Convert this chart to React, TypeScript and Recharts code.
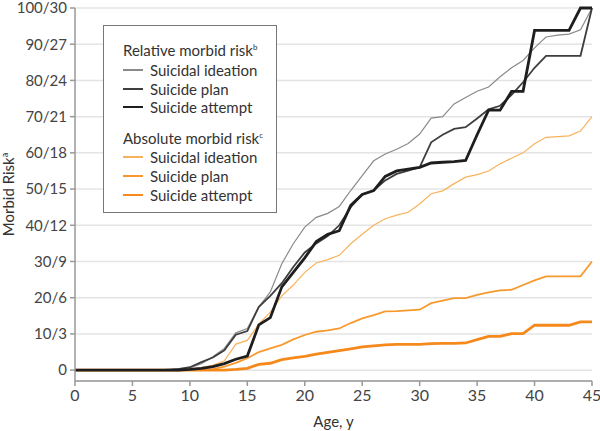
import React from 'react';
import { LineChart, Line, XAxis, YAxis, CartesianGrid } from 'recharts';

// ages 0..45, one point per year
const ages = [
  0, 1, 2, 3, 4, 5, 6, 7, 8, 9, 10, 11, 12, 13, 14, 15, 16, 17, 18, 19, 20, 21, 22,
  23, 24, 25, 26, 27, 28, 29, 30, 31, 32, 33, 34, 35, 36, 37, 38, 39, 40, 41, 42, 43, 44, 45,
];

// relative morbid risk (left scale, 0-100)
const relIdeation = [
  0, 0, 0, 0, 0, 0, 0, 0, 0.2, 0.4, 0.6, 1.8, 3.7, 6, 10.3, 11.5, 17.4, 21.6, 29.4, 34.9,
  39.5, 42.2, 43.3, 45.2, 49.6, 53.7, 57.8, 59.7, 61, 62.6, 65.2, 69.6, 70, 73.5, 75.3, 77,
  78.2, 81, 83.5, 85.5, 89, 92, 92.5, 92.8, 94, 100,
];
const relPlan = [
  0, 0, 0, 0, 0, 0, 0, 0, 0, 0.3, 0.8, 2.2, 3.5, 5.5, 9.8, 10.8, 17.5, 20.5, 24, 28.5, 32.5,
  35, 37, 40, 45, 48.5, 49.6, 52.4, 54.2, 55.1, 56, 62.9, 65, 66.6, 67.1, 69.5, 72, 73, 76,
  79.5, 83.5, 86.8, 86.8, 86.8, 86.8, 100,
];
const relAttempt = [
  0, 0, 0, 0, 0, 0, 0, 0, 0, 0, 0.2, 0.5, 1, 1.8, 3, 3.9, 12.5, 14.5, 23, 27, 31, 35.5, 37.5,
  38.5, 45.5, 48.5, 49.6, 53.5, 55, 55.5, 56, 57.2, 57.4, 57.6, 57.9, 65, 71.8, 71.8, 77, 77,
  93.8, 93.8, 93.8, 93.8, 100, 100,
];

// absolute morbid risk, drawn on the same grid (right number of each tick label)
const absIdeation = [
  0, 0, 0, 0, 0, 0, 0, 0, 0, 0, 0.3, 0.7, 1.3, 2.6, 7.2, 8.2, 12.7, 16, 20.5, 23.5, 27, 29.6,
  30.5, 31.7, 34.9, 37.5, 40, 41.8, 42.8, 43.6, 45.9, 48.7, 49.5, 51.5, 53.3, 54, 55, 57, 58.5,
  60, 62.5, 64.3, 64.5, 64.7, 66, 70,
];
const absPlan = [
  0, 0, 0, 0, 0, 0, 0, 0, 0, 0, 0, 0, 0.3, 1, 2, 3.3, 5, 6, 7, 8.5, 9.7, 10.6, 11, 11.5, 13,
  14.3, 15.2, 16.2, 16.3, 16.5, 16.7, 18.5, 19.2, 19.9, 19.9, 20.8, 21.5, 22, 22.2, 23.5, 24.8,
  25.9, 25.9, 25.9, 25.9, 30,
];
const absAttempt = [
  0, 0, 0, 0, 0, 0, 0, 0, 0, 0, 0, 0, 0, 0, 0.2, 0.5, 1.6, 1.9, 2.9, 3.4, 3.8, 4.4, 4.9, 5.4,
  5.9, 6.4, 6.7, 7, 7.1, 7.1, 7.1, 7.3, 7.4, 7.4, 7.5, 8.4, 9.3, 9.3, 10.1, 10.1, 12.4, 12.4,
  12.4, 12.4, 13.3, 13.3,
];

const xTicks = [0, 5, 10, 15, 20, 25, 30, 35, 40, 45];
const yTicks = [0, 10, 20, 30, 40, 50, 60, 70, 80, 90, 100];
const yTickLabels = ['0', '10/3', '20/6', '30/9', '40/12', '50/15', '60/18', '70/21', '80/24', '90/27', '100/30'];

const FONT = 'Lato, sans-serif';

const series = [
  { key: 'absIdeation', label: 'Suicidal ideation', color: '#f8b25c', width: 1.2 },
  { key: 'absPlan', label: 'Suicide plan', color: '#f79a2e', width: 1.8 },
  { key: 'absAttempt', label: 'Suicide attempt', color: '#f5891c', width: 2.8 },
  { key: 'relIdeation', label: 'Suicidal ideation', color: '#8a8a8a', width: 1.2 },
  { key: 'relPlan', label: 'Suicide plan', color: '#3e3e3e', width: 1.8 },
  { key: 'relAttempt', label: 'Suicide attempt', color: '#1e1e1e', width: 2.8 },
];

const data = ages.map((age, i) => ({
  age,
  relIdeation: relIdeation[i],
  relPlan: relPlan[i],
  relAttempt: relAttempt[i],
  absIdeation: absIdeation[i],
  absPlan: absPlan[i],
  absAttempt: absAttempt[i],
}));

const YLabel = (props: any) => {
  const vb = props.viewBox || {};
  const cy = vb.y + vb.height / 2;
  return (
    <text
      x={14}
      y={cy}
      transform={`rotate(-90, 14, ${cy})`}
      textAnchor="middle"
      fill="#333"
      fontSize={15}
      fontFamily={FONT}
    >
      Morbid Risk
      <tspan fontSize={9} dy={-6}>a</tspan>
    </text>
  );
};

const LegendBox = () => {
  const row = (s: any, top: number) => (
    <div key={s.key} style={{ position: 'absolute', left: 0, top, height: 18, width: '100%' }}>
      <div
        style={{
          position: 'absolute',
          left: 19,
          top: 9 - s.width / 2,
          width: 20,
          height: s.width,
          background: s.color,
        }}
      />
      <span style={{ position: 'absolute', left: 46, top: 0, lineHeight: '18px' }}>{s.label}</span>
    </div>
  );
  const header = (text: string, sup: string, top: number) => (
    <div style={{ position: 'absolute', left: 19, top, lineHeight: '18px', whiteSpace: 'nowrap' }}>
      {text}
      <sup style={{ fontSize: 8, verticalAlign: 'top', lineHeight: '12px' }}>{sup}</sup>
    </div>
  );
  return (
    <div
      style={{
        position: 'absolute',
        left: 103,
        top: 25,
        width: 172,
        height: 186,
        border: '1.5px solid #777',
        background: '#fff',
        fontFamily: FONT,
        fontSize: 15,
        color: '#333',
      }}
    >
      {header('Relative morbid risk', 'b', 15)}
      {row(series[3], 35)}
      {row(series[4], 54)}
      {row(series[5], 72)}
      {header('Absolute morbid risk', 'c', 103)}
      {row(series[0], 122)}
      {row(series[1], 141)}
      {row(series[2], 160)}
    </div>
  );
};

export default function App() {
  return (
    <div style={{ position: 'absolute', left: 0, top: 0, width: 600, height: 431, background: '#fff' }}>
      <LineChart width={600} height={431} data={data} margin={{ top: 8, right: 8, left: 5, bottom: 0 }}>
        <CartesianGrid horizontal vertical={false} stroke="#e4e4e4" strokeWidth={1.5} />
        <XAxis
          dataKey="age"
          type="number"
          domain={[0, 45]}
          ticks={xTicks}
          interval={0}
          height={50}
          tick={{ fill: '#444', fontSize: 16, fontFamily: FONT }}
          tickSize={5}
          tickMargin={4}
          axisLine={{ stroke: '#999', strokeWidth: 1.5 }}
          tickLine={{ stroke: '#999', strokeWidth: 1.5 }}
          label={{
            value: 'Age, y',
            position: 'insideBottom',
            offset: 4,
            fill: '#333',
            fontSize: 15,
            fontFamily: FONT,
          }}
        />
        <YAxis
          type="number"
          domain={[-3, 100]}
          ticks={yTicks}
          interval={0}
          width={70}
          tickFormatter={(v: number) => yTickLabels[yTicks.indexOf(v)]}
          tick={{ fill: '#444', fontSize: 15, fontFamily: FONT }}
          tickSize={5}
          tickMargin={3}
          axisLine={{ stroke: '#999', strokeWidth: 1.5 }}
          tickLine={{ stroke: '#999', strokeWidth: 1.5 }}
          label={<YLabel />}
        />
        {series.map((s) => (
          <Line
            key={s.key}
            type="linear"
            dataKey={s.key}
            stroke={s.color}
            strokeWidth={s.width}
            dot={false}
            isAnimationActive={false}
          />
        ))}
      </LineChart>
      <LegendBox />
    </div>
  );
}
